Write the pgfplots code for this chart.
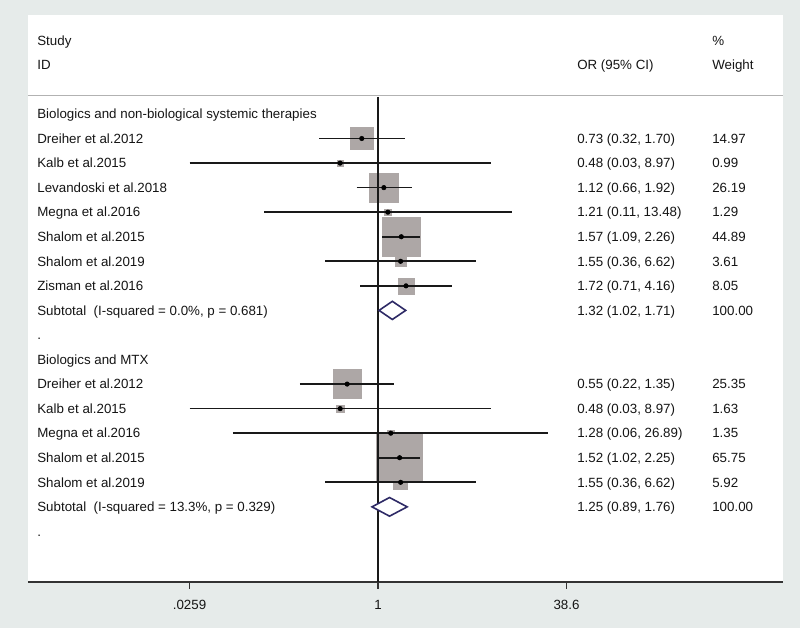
\documentclass[border=0pt]{standalone}
\usepackage{pgfplots}
\pgfplotsset{compat=1.18}
\usepackage{pgfplotstable}
\usepackage{fontspec}
\setmainfont{Liberation Sans}
\definecolor{bg}{HTML}{E6EBEA}
\definecolor{boxgrey}{HTML}{ADA7A6}
\definecolor{diam}{HTML}{2E2A66}
\definecolor{txt}{HTML}{151515}

% row  OR  lower  upper  weight
\pgfplotstableread{
row or lo hi w
1 0.73 0.32 1.70 14.97
2 0.48 0.0259 8.97 0.99
3 1.12 0.66 1.92 26.19
4 1.21 0.11 13.48 1.29
5 1.57 1.09 2.26 44.89
6 1.55 0.36 6.62 3.61
7 1.72 0.71 4.16 8.05
11 0.55 0.22 1.35 25.35
12 0.48 0.0259 8.97 1.63
13 1.28 0.06 26.89 1.35
14 1.52 1.02 2.25 65.75
15 1.55 0.36 6.62 5.92
}\studies

\tikzset{lbl/.style={anchor=west, inner sep=0pt, text height=7.2pt, text depth=0pt,
  font=\fontsize{10}{12}\selectfont, text=txt}}
\newcommand\lab[2]{\node[lbl] at (axis cs:0.00135,-#1) {#2};}
\newcommand\frow[4]{\node[lbl] at (axis cs:0.00135,-#1) {#2};
  \node[lbl] at (axis cs:47.3,-#1) {#3};
  \node[lbl] at (axis cs:648,-#1) {#4};}
% box: OR, row, half side (pt) = 2.1375*sqrt(weight)
\newcommand\obox[3]{\addplot[only marks, mark=square*, mark size=#3pt, color=boxgrey, mark options={draw=none, fill=boxgrey}] coordinates {(#1,-#2)};}
\newcommand\ci[3]{\addplot[black!90, line width=1.3pt] coordinates {(#1,-#3) (#2,-#3)};}

\begin{document}
\begin{tikzpicture}
\useasboundingbox (0,0) rectangle (600pt,471pt);
\fill[bg] (0,0) rectangle (600pt,471pt);
\fill[white] (21pt,34.5pt) rectangle (587.25pt,459.75pt);
\begin{axis}[
  at={(21pt,34.5pt)}, anchor=south west,
  scale only axis, width=566.25pt, height=425.25pt,
  xmode=log, xmin=0.001132, xmax=2563,
  ymin=-19.06, ymax=4.03,
  axis x line*=bottom, axis y line=none,
  axis line style={draw=black!80, line width=1.1pt},
  xtick={0.0259,1,38.6}, xticklabels={.0259,1,38.6},
  minor xtick={},
  tick align=outside, major tick length=5pt,
  tick style={draw=black!80, line width=1.1pt},
  xticklabel style={font=\fontsize{10}{12}\selectfont, text=txt, yshift=-5pt},
  clip=false, clip marker paths=true,
]
% boxes
\obox{0.73}{1}{8.27}
\obox{0.48}{2}{2.13}
\obox{1.12}{3}{10.94}
\obox{1.21}{4}{2.43}
\obox{1.57}{5}{14.32}
\obox{1.55}{6}{4.06}
\obox{1.72}{7}{6.06}
\obox{0.55}{11}{10.76}
\obox{0.48}{12}{2.73}
\obox{1.28}{13}{2.48}
\obox{1.52}{14}{17.33}
\obox{1.55}{15}{5.20}
% reference line and header rule
\draw[black!90, line width=1.2pt] (axis cs:1,0.70) -- (axis cs:1,-19.06);
\draw[black!30, line width=0.6pt] ({rel axis cs:0,0}|-{axis cs:1,0.77}) -- ({rel axis cs:1,0}|-{axis cs:1,0.77});
% confidence intervals
\ci{0.32}{1.70}{1}
\ci{0.0259}{8.97}{2}
\ci{0.66}{1.92}{3}
\ci{0.11}{13.48}{4}
\ci{1.09}{2.26}{5}
\ci{0.36}{6.62}{6}
\ci{0.71}{4.16}{7}
\ci{0.22}{1.35}{11}
\ci{0.0259}{8.97}{12}
\ci{0.06}{26.89}{13}
\ci{1.02}{2.25}{14}
\ci{0.36}{6.62}{15}
% point estimates
\addplot[only marks, mark=*, mark size=1.7pt, black] table[x=or, y expr=-\thisrow{row}] {\studies};
% subtotal diamonds
\addplot[draw=diam, fill=white, line width=1.2pt, line join=miter] coordinates {(1.02,-8) (1.32,-7.63) (1.71,-8) (1.32,-8.37) (1.02,-8) (1.32,-7.63)};
\addplot[draw=diam, fill=white, line width=1.2pt, line join=miter] coordinates {(0.89,-16) (1.25,-15.62) (1.76,-16) (1.25,-16.38) (0.89,-16) (1.25,-15.62)};
% texts
\node[lbl] at (axis cs:0.00135,3) {Study};
\node[lbl] at (axis cs:648,3) {\%};
\node[lbl] at (axis cs:0.00135,2) {ID};
\node[lbl] at (axis cs:47.3,2) {OR (95\% CI)};
\node[lbl] at (axis cs:648,2) {Weight};
\lab{0}{Biologics and non-biological systemic therapies}
\frow{1}{Dreiher et al.2012}{0.73 (0.32, 1.70)}{14.97}
\frow{2}{Kalb et al.2015}{0.48 (0.03, 8.97)}{0.99}
\frow{3}{Levandoski et al.2018}{1.12 (0.66, 1.92)}{26.19}
\frow{4}{Megna et al.2016}{1.21 (0.11, 13.48)}{1.29}
\frow{5}{Shalom et al.2015}{1.57 (1.09, 2.26)}{44.89}
\frow{6}{Shalom et al.2019}{1.55 (0.36, 6.62)}{3.61}
\frow{7}{Zisman et al.2016}{1.72 (0.71, 4.16)}{8.05}
\frow{8}{Subtotal\ \ (I-squared = 0.0\%, p = 0.681)}{1.32 (1.02, 1.71)}{100.00}
\lab{9}{.}
\lab{10}{Biologics and MTX}
\frow{11}{Dreiher et al.2012}{0.55 (0.22, 1.35)}{25.35}
\frow{12}{Kalb et al.2015}{0.48 (0.03, 8.97)}{1.63}
\frow{13}{Megna et al.2016}{1.28 (0.06, 26.89)}{1.35}
\frow{14}{Shalom et al.2015}{1.52 (1.02, 2.25)}{65.75}
\frow{15}{Shalom et al.2019}{1.55 (0.36, 6.62)}{5.92}
\frow{16}{Subtotal\ \ (I-squared = 13.3\%, p = 0.329)}{1.25 (0.89, 1.76)}{100.00}
\lab{17}{.}
\end{axis}
\end{tikzpicture}
\end{document}
